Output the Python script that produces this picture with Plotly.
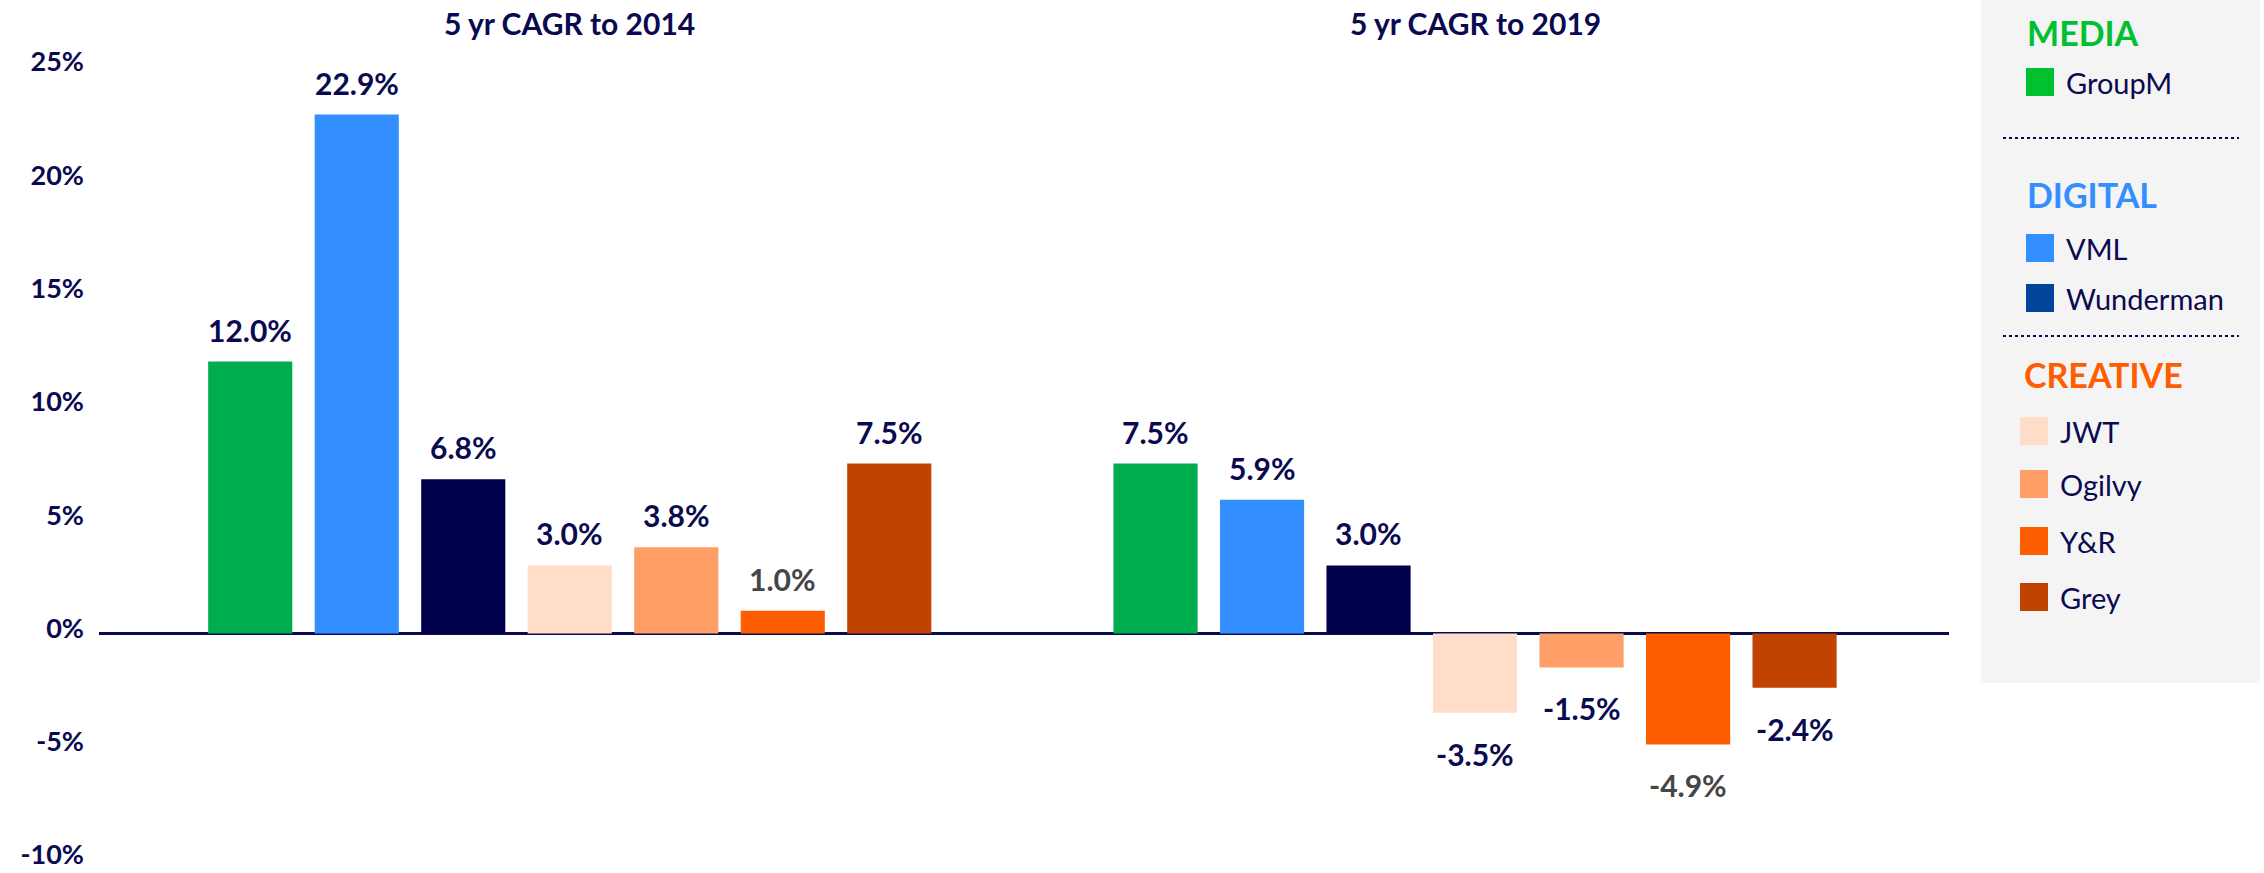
import plotly.graph_objects as go

# ---------------- data ----------------
agencies = ["GroupM", "VML", "Wunderman", "JWT", "Ogilvy", "Y&R", "Grey"]
cagr_2014 = [12.0, 22.9, 6.8, 3.0, 3.8, 1.0, 7.5]
cagr_2019 = [7.5, 5.9, 3.0, -3.5, -1.5, -4.9, -2.4]
group_titles = ["5 yr CAGR to 2014", "5 yr CAGR to 2019"]
tick_vals = [-10, -5, 0, 5, 10, 15, 20, 25]
tick_text = ["-10%", "-5%", "0%", "5%", "10%", "15%", "20%", "25%"]
legend_headers = ["MEDIA", "DIGITAL", "CREATIVE"]
legend_groups = [["GroupM"], ["VML", "Wunderman"], ["JWT", "Ogilvy", "Y&R", "Grey"]]

# ---------------- styles ----------------
NAVY = "#0A0A50"
GREYTXT = "#454545"
bar_colors = ["#00AD4E", "#338EFF", "#00004C", "#FFDDC9", "#FF9F67", "#FF5E00", "#C04400"]
legend_colors = {"GroupM": "#00C12E", "VML": "#338EFF", "Wunderman": "#004499",
                 "JWT": "#FFDDC9", "Ogilvy": "#FF9F67", "Y&R": "#FF5E00", "Grey": "#C04400"}
header_colors = ["#00C030", "#338EFF", "#FF5E00"]
grey_labels = {(0, "Y&R"), (1, "Y&R")}

W, H = 2264, 873
X0, X1 = 99, 1949          # plot area pixels
YT, YB = 67, 860           # 25% and -10% pixel rows
group_offsets = [0.0, 8.5]

def px(x):
    return x / W

def py(y):
    return 1 - y / H

fig = go.Figure()
series = [cagr_2014, cagr_2019]
for gi, vals in enumerate(series):
    xs = [group_offsets[gi] + i for i in range(len(agencies))]
    fig.add_trace(go.Bar(
        x=xs, y=vals, width=0.79,
        marker=dict(color=bar_colors, line=dict(width=0)),
        showlegend=False, hoverinfo="skip",
    ))

annotations = []
for gi, vals in enumerate(series):
    for i, v in enumerate(vals):
        xv = group_offsets[gi] + i
        col = GREYTXT if (gi, agencies[i]) in grey_labels else NAVY
        annotations.append(dict(
            x=xv, y=v, xref="x", yref="y",
            text=f"{v:.1f}%",
            showarrow=False,
            yanchor="bottom" if v >= 0 else "top",
            yshift=12 if v >= 0 else -21,
            font=dict(family="Lato", size=30, color=col, weight="bold"),
        ))
    annotations.append(dict(
        x=group_offsets[gi] + (len(agencies) - 1) / 2, y=py(23), xref="x", yref="paper",
        text=group_titles[gi], showarrow=False, yanchor="middle",
        font=dict(family="Lato", size=30, color=NAVY, weight="bold"),
    ))

# ---------------- custom legend panel ----------------
shapes = [dict(type="rect", xref="paper", yref="paper",
               x0=px(1981), x1=px(2260), y0=py(683), y1=py(0),
               fillcolor="#F4F4F4", line=dict(width=0), layer="below")]
header_pos = [(2025, 33), (2025, 195), (2022, 374)]
item_rows = [[82], [248, 298], [431, 484, 541, 597]]
swatch_x = [2026, 2026, 2020]
for k, hdr in enumerate(legend_headers):
    hx, hy = header_pos[k]
    annotations.append(dict(
        x=px(hx), y=py(hy), xref="paper", yref="paper", text=hdr,
        showarrow=False, xanchor="left", yanchor="middle",
        font=dict(family="Lato", size=34, color=header_colors[k], weight="bold"),
    ))
    for j, name in enumerate(legend_groups[k]):
        cy = item_rows[k][j]
        sx = swatch_x[k]
        shapes.append(dict(type="rect", xref="paper", yref="paper",
                           x0=px(sx), x1=px(sx + 28), y0=py(cy + 14), y1=py(cy - 14),
                           fillcolor=legend_colors[name], line=dict(width=0)))
        annotations.append(dict(
            x=px(sx + 38), y=py(cy), xref="paper", yref="paper", text=name,
            showarrow=False, xanchor="left", yanchor="middle",
            font=dict(family="Lato", size=29, color=NAVY),
        ))
for ly in [138, 336]:
    shapes.append(dict(type="line", xref="paper", yref="paper",
                       x0=px(2003), x1=px(2239), y0=py(ly), y1=py(ly),
                       line=dict(color=NAVY, width=2, dash="dot")))

u = 35 / (YB - YT)  # data units per pixel
fig.update_layout(
    width=W, height=H,
    margin=dict(l=0, r=0, t=0, b=0, autoexpand=False),
    paper_bgcolor="white", plot_bgcolor="white",
    annotations=annotations, shapes=shapes,
    xaxis=dict(domain=[px(X0), px(X1)], range=[-1.42, 15.95],
               showgrid=False, zeroline=False, showticklabels=False,
               showline=False, ticks="", fixedrange=True),
    yaxis=dict(domain=[1 - (YB + 10) / H, 1 - (YT - 10) / H],
               range=[-10 - 10 * u, 25 + 10 * u],
               tickvals=tick_vals, ticktext=tick_text,
               showgrid=False, zeroline=True, zerolinecolor=NAVY, zerolinewidth=3,
               showline=False, ticks="", automargin=False,
               ticklabelstandoff=14, ticklabeloverflow="allow", ticklabelshift=-5,
               tickfont=dict(family="Lato", size=27, color=NAVY, weight="bold")),
    bargap=0.2,
)

fig.write_html("out.html", config={"displayModeBar": False},
               post_script="document.body.style.margin='0';document.body.style.overflow='hidden';")
